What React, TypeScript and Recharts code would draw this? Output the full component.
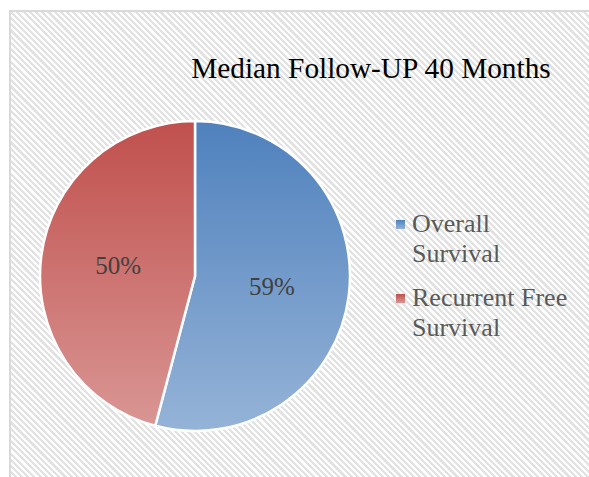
import { PieChart, Pie, Cell, Legend } from "recharts";

const categories = ["Overall Survival", "Recurrent Free Survival"];
const values = [59, 50];
const valueLabels = ["59%", "50%"];
const title = "Median Follow-UP 40 Months";

const gradients = [
  { id: "gradBlue", top: "#4f81bd", bottom: "#95b3d7" },
  { id: "gradRed", top: "#c0504d", bottom: "#d99694" },
];

const data = categories.map((name, i) => ({
  name,
  value: values[i],
  label: valueLabels[i],
}));

const RADIAN = Math.PI / 180;

function renderLabel(props: any) {
  const { cx, cy, midAngle, outerRadius, index } = props;
  const r = outerRadius * 0.5;
  const x = cx + r * Math.cos(-midAngle * RADIAN);
  const y = cy + r * Math.sin(-midAngle * RADIAN);
  return (
    <text
      x={x}
      y={y}
      textAnchor="middle"
      dominantBaseline="central"
      fill="#404040"
      style={{ fontFamily: "'Liberation Serif', serif", fontSize: 25 }}
    >
      {data[index].label}
    </text>
  );
}

function LegendContent(props: any) {
  const payload = props.payload || [];
  return (
    <div style={{ fontFamily: "'Liberation Serif', serif" }}>
      {payload.map((entry: any, i: number) => (
        <div
          key={i}
          style={{
            display: "flex",
            alignItems: "flex-start",
            marginBottom: 14,
          }}
        >
          <svg width={9} height={9} style={{ marginTop: 11, marginRight: 7, flex: "none" }}>
            <rect width={9} height={9} fill={`url(#${gradients[i].id})`} />
          </svg>
          <span
            style={{
              width: 165,
              fontSize: 26,
              lineHeight: "30px",
              color: "#595959",
            }}
          >
            {entry.value}
          </span>
        </div>
      ))}
    </div>
  );
}

export default function App() {
  return (
    <div
      style={{
        position: "absolute",
        left: 0,
        top: 0,
        width: 589,
        height: 477,
        overflow: "hidden",
        background: "#fff",
      }}
    >
      <svg width={0} height={0} style={{ position: "absolute" }}>
        <defs>
          {gradients.map((g) => (
            <linearGradient key={g.id} id={g.id} x1="0" y1="0" x2="0" y2="1">
              <stop offset="0%" stopColor={g.top} />
              <stop offset="100%" stopColor={g.bottom} />
            </linearGradient>
          ))}
        </defs>
      </svg>
      <div
        style={{
          position: "absolute",
          left: 9,
          top: 10,
          width: 580,
          height: 467,
          boxSizing: "border-box",
          borderTop: "2px solid #d9d9d9",
          borderLeft: "2px solid #d9d9d9",
          backgroundImage:
            "repeating-linear-gradient(45deg, #ffffff 0px, #ffffff 2.2px, #e2e2e2 2.2px, #e2e2e2 4.4px)",
        }}
      >
        <div
          style={{
            position: "absolute",
            left: 0,
            top: 42,
            width: 720,
            textAlign: "center",
            fontFamily: "'Liberation Serif', serif",
            fontSize: 29.3,
            lineHeight: "29px",
            color: "#000",
            whiteSpace: "nowrap",
          }}
        >
          {title}
        </div>
        <PieChart width={578} height={465} margin={{ top: 0, right: 0, bottom: 0, left: 0 }}>
          <Pie
            data={data}
            dataKey="value"
            nameKey="name"
            cx={184}
            cy={264}
            outerRadius={155}
            startAngle={90}
            endAngle={-270}
            stroke="#ffffff"
            strokeWidth={2.5}
            label={renderLabel}
            labelLine={false}
            isAnimationActive={false}
          >
            {data.map((_, i) => (
              <Cell key={i} fill={`url(#${gradients[i].id})`} />
            ))}
          </Pie>
          <Legend
            layout="vertical"
            align="right"
            verticalAlign="top"
            content={<LegendContent />}
            wrapperStyle={{ left: 385, top: 197, width: 190 }}
          />
        </PieChart>
      </div>
    </div>
  );
}
